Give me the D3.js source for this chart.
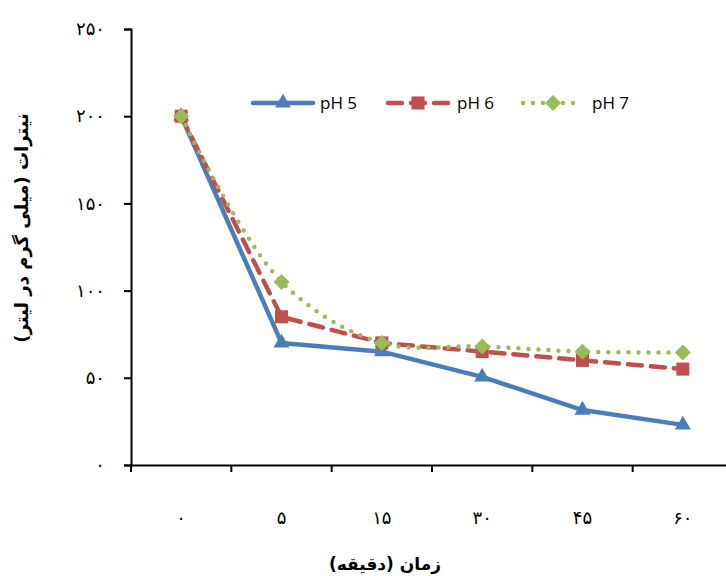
<!DOCTYPE html>
<html><head><meta charset="utf-8">
<script src="https://cdn.jsdelivr.net/npm/d3@7"></script>
<style>body{margin:0;background:#fff}</style>
</head><body>
<svg id="c" width="726" height="576"></svg>
<script>
const categories = ["۰","۵","۱۵","۳۰","۴۵","۶۰"];
const yTicks = [0,50,100,150,200,250];
const yTickLabels = ["۰","۵۰","۱۰۰","۱۵۰","۲۰۰","۲۵۰"];
const seriesNames = ["pH 5","pH 6","pH 7"];
const pH5 = [200,70,65,50.5,31.5,23];
const pH6 = [200,85,70,65,60,55];
const pH7 = [200,105,70,68,65,64.5];
const colors = ["#4A7EBB","#C0504D","#9BBB59"];

const svg = d3.select("#c");
const x0 = 131, x1 = 733, yTop = 29, yBot = 465;
const x = d3.scaleBand().domain(categories).range([x0,x1]);
const y = d3.scaleLinear().domain([0,250]).range([yBot,yTop]);
const cx = d => x(d) + x.bandwidth()/2;

// y axis
const ya = svg.append("g").attr("transform",`translate(${x0},0)`)
  .call(d3.axisLeft(y).tickValues(yTicks).tickSize(7).tickFormat((d,i)=>yTickLabels[i]));
ya.select(".domain").attr("stroke","#000").attr("stroke-width",2);
ya.selectAll(".tick line").attr("stroke","#000").attr("stroke-width",2);
ya.selectAll(".tick text").attr("x",-26).attr("font-family","DejaVu Serif, DejaVu Sans, serif").attr("font-size",18).attr("fill","#000");

// x axis
const xa = svg.append("g").attr("transform",`translate(0,${yBot})`)
  .call(d3.axisBottom(x).tickSize(0).tickFormat(d=>d));
xa.select(".domain").attr("stroke","#000").attr("stroke-width",2);
xa.selectAll(".tick text").attr("y",46).attr("font-family","DejaVu Serif, DejaVu Sans, serif").attr("font-size",18).attr("fill","#000");
// band-boundary ticks
const bounds = categories.map(c=>x(c)).concat([x1]);
svg.append("g").selectAll("line").data(bounds).join("line")
  .attr("x1",d=>d).attr("x2",d=>d).attr("y1",yBot).attr("y2",yBot+7)
  .attr("stroke","#000").attr("stroke-width",2);

// axis titles
svg.append("text").attr("transform","translate(28,228) rotate(-90)")
  .attr("text-anchor","middle").attr("font-family","DejaVu Sans, sans-serif")
  .attr("font-weight","bold").attr("font-size",18).attr("direction","rtl")
  .text("نیترات (میلی گرم در لیتر)");
svg.append("text").attr("x",385).attr("y",570)
  .attr("text-anchor","middle").attr("font-family","DejaVu Sans, sans-serif")
  .attr("font-weight","bold").attr("font-size",17).attr("direction","rtl")
  .text("زمان (دقیقه)");

const data = [pH5,pH6,pH7];
const curves = [d3.curveLinear, d3.curveLinear, d3.curveCatmullRom.alpha(0.5)];
const dashes = [null,"14,9","0,10"];
const line = (c) => d3.line().x((d,i)=>cx(categories[i])).y(d=>y(d)).curve(c);

const tri = () => d3.symbol().type(d3.symbolTriangle).size(110)();
const sq = () => d3.symbol().type(d3.symbolSquare).size(170)();
const dia = () => "M0,-8L8,0L0,8L-8,0Z";
const syms = [tri,sq,dia];

data.forEach((vals,k)=>{
  svg.append("path").datum(vals).attr("d",line(curves[k]))
    .attr("fill","none").attr("stroke",colors[k]).attr("stroke-width",4.5)
    .attr("stroke-linecap",k===0?"butt":"round").attr("stroke-linejoin","round")
    .attr("stroke-dasharray",dashes[k]);
});
data.forEach((vals,k)=>{
  svg.append("g").selectAll("path").data(vals).join("path")
    .attr("d",syms[k]())
    .attr("transform",(d,i)=>`translate(${cx(categories[i])},${y(d)})`)
    .attr("fill",colors[k]);
});

// legend
const legX = [253,388,523];
const lg = svg.append("g");
seriesNames.forEach((n,k)=>{
  const g = lg.append("g").attr("transform",`translate(${legX[k]},103)`);
  g.append("line").attr("x1",0).attr("x2",60).attr("y1",0).attr("y2",0)
    .attr("stroke",colors[k]).attr("stroke-width",4.5)
    .attr("stroke-linecap","round").attr("stroke-dasharray",dashes[k]);
  g.append("path").attr("d",syms[k]()).attr("transform","translate(30,0)").attr("fill",colors[k]);
  g.append("text").attr("x",k===0?67:69).attr("y",6).attr("font-family","Open Sans, sans-serif")
    .attr("font-size",17).text(n);
});
</script>
</body></html>
